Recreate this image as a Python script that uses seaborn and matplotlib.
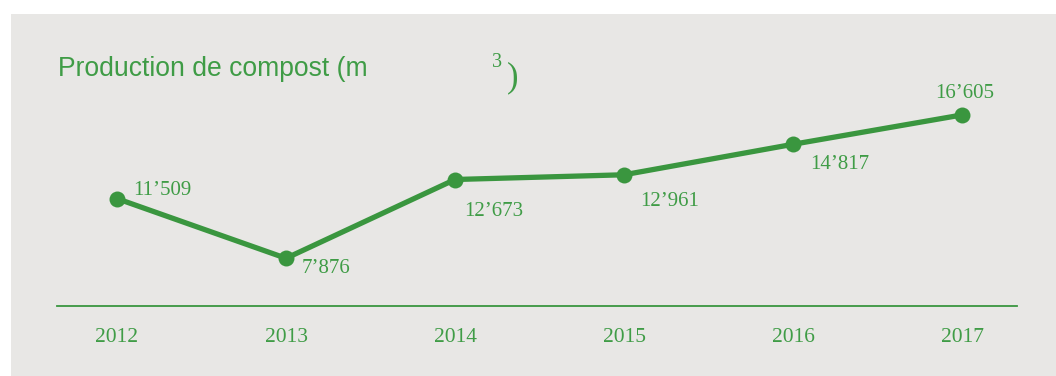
import matplotlib
matplotlib.use("Agg")
import matplotlib.pyplot as plt
from matplotlib.patches import Rectangle
import seaborn as sns
import pandas as pd

# Compost production per year (m3)
years = [2012, 2013, 2014, 2015, 2016, 2017]
volumes = [11509, 7876, 12673, 12961, 14817, 16605]
value_labels = ["11\u2019509", "7\u2019876", "12\u2019673", "12\u2019961", "14\u2019817", "16\u2019605"]
title_text = "Production de compost (m"

GREEN = "#3a963f"
TEXT_GREEN = "#3f9c46"
PANEL = "#e8e7e5"

sns.set_theme(style="white")
plt.rcParams["font.family"] = ["Liberation Serif", "DejaVu Serif"]

W, H = 1056, 376
fig = plt.figure(figsize=(W / 100, H / 100), dpi=100, facecolor="white")

# grey background panel
fig.patches.append(Rectangle((11 / W, 0), 1 - 11 / W, 1 - 14 / H,
                             transform=fig.transFigure, facecolor=PANEL,
                             edgecolor="none", zorder=-5))

ax = fig.add_axes([57 / W, 1 - 306 / H, 960 / W, (306 - 60) / H])
ax.set_facecolor("none")
ax.set_zorder(2)

df = pd.DataFrame({"annee": years, "volume": volumes})
sns.lineplot(data=df, x="annee", y="volume", ax=ax, color=GREEN,
             linewidth=3.8, marker="o", markersize=11.5,
             markeredgewidth=0, markerfacecolor=GREEN)

ax.set_xlim(2011.645, 2017.325)
ax.set_ylim(4970, 19950)

for s in ["top", "right", "left"]:
    ax.spines[s].set_visible(False)
ax.spines["bottom"].set_color(GREEN)
ax.spines["bottom"].set_linewidth(1.3)

ax.set_xticks(years)
ax.set_xticklabels([str(y) for y in years], fontsize=15.5, color=TEXT_GREEN)
ax.tick_params(axis="x", length=0, pad=16)
ax.set_yticks([])
ax.set_xlabel("")
ax.set_ylabel("")

# value labels placed around each point (offsets in pixels)
offsets = [(16, 8, "left"), (16, -10, "left"), (9, -32, "left"),
           (16, -27, "left"), (17, -20, "left"), (3, 21, "center")]
for x, v, lab, (dx, dy, ha) in zip(years, volumes, value_labels, offsets):
    ax.annotate(lab, (x, v), xytext=(dx, dy), textcoords="offset pixels",
                ha=ha, va="center", fontsize=15, color=TEXT_GREEN)

# title with superscript unit
fig.text(58 / W, 1 - 76 / H, title_text, fontsize=19.1, color=TEXT_GREEN,
         family=["Liberation Sans", "DejaVu Sans"], ha="left", va="baseline")
fig.text(497 / W, 1 - 67 / H, "3", fontsize=14.5, color=TEXT_GREEN,
         ha="center", va="baseline")
fig.text(513 / W, 1 - 86 / H, ")", fontsize=25, color=TEXT_GREEN,
         ha="center", va="baseline")

fig.savefig("out.png", dpi=100, facecolor="white")
